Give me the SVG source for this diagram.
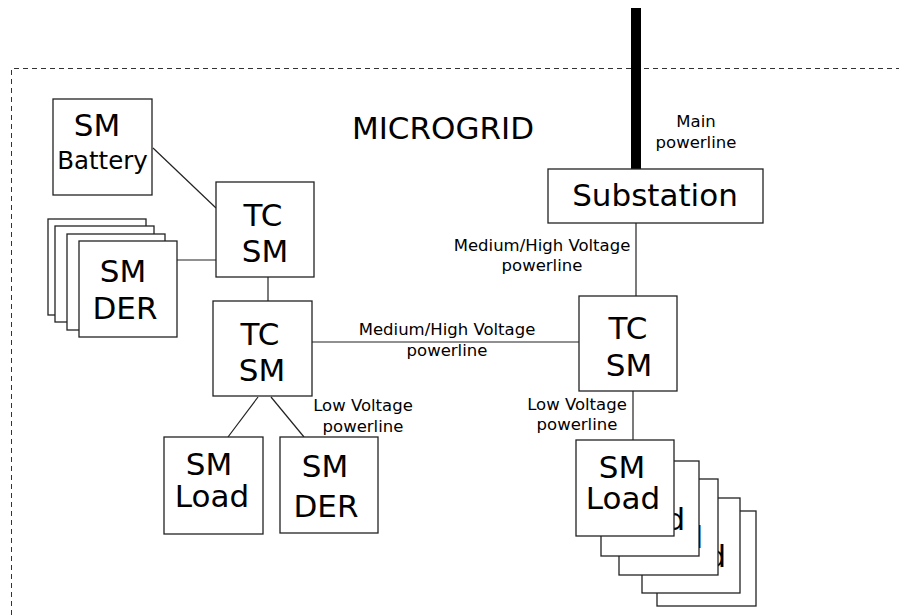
<svg xmlns="http://www.w3.org/2000/svg" width="899" height="615" viewBox="0 0 899 615">
<style>
.box{fill:#fff;stroke:#222;stroke-width:1.3}
.ln{stroke:#222;stroke-width:1.2;fill:none}
.big{font-family:"DejaVu Sans",sans-serif;font-size:31px;text-anchor:middle;fill:#000}
.mid{font-family:"DejaVu Sans",sans-serif;font-size:24.5px;text-anchor:middle;fill:#000}
.lbl{font-family:"DejaVu Sans",sans-serif;font-size:16.5px;text-anchor:middle;fill:#000}
</style>
<rect width="899" height="615" fill="#fff"/>
<path d="M11.5 615 V68.5 H899" fill="none" stroke="#333" stroke-width="1" stroke-dasharray="5,4"/>
<text class="big" x="443" y="139">MICROGRID</text>
<g id="connectors">
<line x1="636" y1="8" x2="636" y2="169" stroke="#000" stroke-width="10"/>
<line class="ln" x1="153" y1="148" x2="216" y2="208"/>
<line class="ln" x1="177" y1="260" x2="216" y2="260"/>
<line class="ln" x1="268" y1="277" x2="268" y2="301"/>
<line class="ln" x1="312" y1="342" x2="579" y2="342"/>
<line class="ln" x1="636" y1="223" x2="636" y2="296"/>
<line class="ln" x1="633" y1="391" x2="633" y2="440"/>
<line class="ln" x1="258" y1="397" x2="228" y2="437"/>
<line class="ln" x1="271" y1="397" x2="304" y2="437"/>
<text class="lbl" x="696" y="127">Main</text>
<text class="lbl" x="696" y="148">powerline</text>
<text class="lbl" x="542" y="251">Medium/High Voltage</text>
<text class="lbl" x="542" y="271">powerline</text>
<text class="lbl" x="447" y="335">Medium/High Voltage</text>
<text class="lbl" x="447" y="356">powerline</text>
<text class="lbl" x="363" y="411">Low Voltage</text>
<text class="lbl" x="363" y="432">powerline</text>
<text class="lbl" x="577" y="410">Low Voltage</text>
<text class="lbl" x="577" y="430">powerline</text>
</g>
<g id="sm-battery">
<rect class="box" x="53" y="99" width="99" height="96"/>
<text class="big" x="97" y="136">SM</text>
<text class="mid" x="102.5" y="169">Battery</text>
</g>
<g id="sm-der-stack">
<rect class="box" x="48" y="219" width="98" height="96"/>
<rect class="box" x="55" y="226" width="99" height="96"/>
<rect class="box" x="67" y="234" width="98" height="96"/>
<rect class="box" x="79" y="241" width="98" height="96"/>
<text class="big" x="123" y="282">SM</text>
<text class="big" x="125" y="319">DER</text>
</g>
<g id="tc-sm-upper">
<rect class="box" x="216" y="182" width="98" height="95"/>
<text class="big" x="263" y="226">TC</text>
<text class="big" x="265" y="262">SM</text>
</g>
<g id="tc-sm-lower">
<rect class="box" x="213" y="301" width="99" height="95"/>
<text class="big" x="260" y="345">TC</text>
<text class="big" x="262" y="381">SM</text>
</g>
<g id="sm-load-left">
<rect class="box" x="164" y="437" width="99" height="97"/>
<text class="big" x="209" y="475">SM</text>
<text class="big" x="212" y="507">Load</text>
</g>
<g id="sm-der-right">
<rect class="box" x="280" y="437" width="98" height="96"/>
<text class="big" x="325" y="477">SM</text>
<text class="big" x="326" y="517">DER</text>
</g>
<g id="substation">
<rect class="box" x="548" y="169" width="215" height="54"/>
<text class="big" x="655" y="206">Substation</text>
</g>
<g id="tc-sm-right">
<rect class="box" x="579" y="296" width="98" height="95"/>
<text class="big" x="628" y="339">TC</text>
<text class="big" x="629" y="376">SM</text>
</g>
<g id="sm-load-stack">
<rect class="box" x="657" y="511" width="99" height="95"/>
<rect class="box" x="642" y="498" width="98" height="95"/>
<text class="big" x="689" y="567">Load</text>
<rect class="box" x="619" y="479" width="99" height="96"/>
<text class="big" x="666" y="548">Load</text>
<rect class="box" x="601" y="461" width="98" height="95"/>
<text class="big" x="648" y="530">Load</text>
<rect class="box" x="576" y="440" width="98" height="96"/>
<text class="big" x="622" y="478">SM</text>
<text class="big" x="623" y="509">Load</text>
</g>
</svg>
